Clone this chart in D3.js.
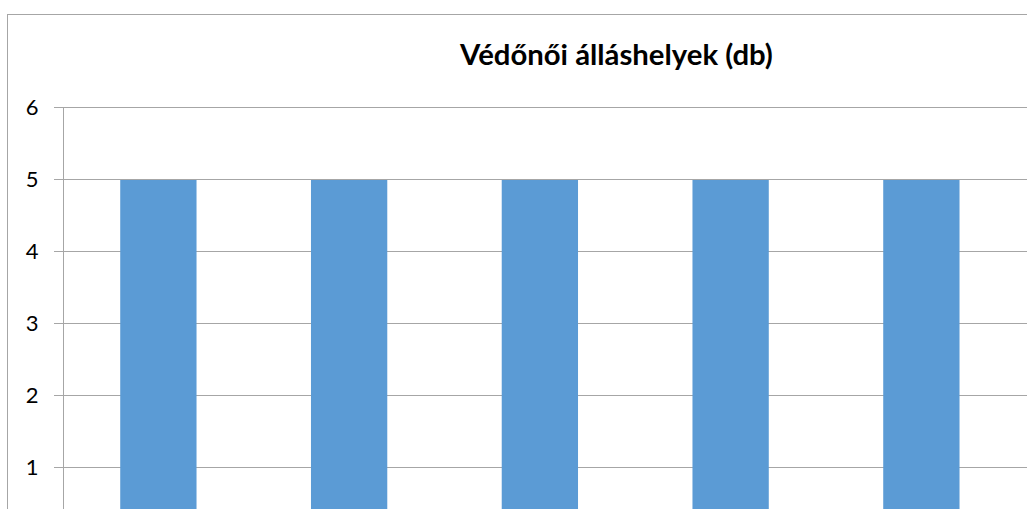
<!DOCTYPE html>
<html><head><meta charset="utf-8">
<script src="https://cdn.jsdelivr.net/npm/d3@7"></script>
<style>html,body{margin:0;padding:0;background:#fff;overflow:hidden}</style>
</head><body>
<svg id="c" width="1027" height="509"></svg>
<script>
const title = "Védőnői álláshelyek (db)";
const categories = ["1", "2", "3", "4", "5"];
const values = [5, 5, 5, 5, 5];
const yTicks = [0, 1, 2, 3, 4, 5, 6];

const svg = d3.select("#c");
const W = 1027, H = 509;
// chart frame (extends past the visible window on the right and bottom)
svg.append("rect").attr("x", 7.5).attr("y", 14.5).attr("width", 1240).attr("height", 600)
  .attr("fill", "#fff").attr("stroke", "#a6a6a6").attr("stroke-width", 1);

const x0 = 63, xEnd = 63 + 190.75 * 5;
const x = d3.scaleBand().domain(categories).range([x0, xEnd]).paddingInner(0.6).paddingOuter(0.3);
const y = d3.scaleLinear().domain([0, 6]).range([539, 107]);

// gridlines
const gridRight = 1240;
svg.append("g").selectAll("line").data(yTicks.filter(d => d > 0)).join("line")
  .attr("x1", 54).attr("x2", gridRight)
  .attr("y1", d => Math.round(y(d)) + 0.5).attr("y2", d => Math.round(y(d)) + 0.5)
  .attr("stroke", "#a6a6a6").attr("stroke-width", 1);

// bars
svg.append("g").selectAll("rect").data(values).join("rect")
  .attr("x", (d, i) => x(categories[i]))
  .attr("width", x.bandwidth())
  .attr("y", d => Math.round(y(d)) + 1)
  .attr("height", d => y(0) - Math.round(y(d)) - 1)
  .attr("fill", "#5b9bd5");

// y axis
const yAxis = d3.axisLeft(y).tickValues(yTicks.filter(d => d > 0)).tickFormat(d3.format("d")).tickSize(0).tickPadding(25);
const ga = svg.append("g").attr("transform", `translate(${x0 + 0.5},0)`).call(yAxis);
ga.attr("font-size", null).attr("font-family", null);
ga.select(".domain").remove();
ga.selectAll("text")
  .style("font-family", "Lato, 'Open Sans', sans-serif")
  .style("font-size", "22px")
  .attr("fill", "#000");
svg.append("line").attr("x1", x0 + 0.5).attr("x2", x0 + 0.5).attr("y1", y(6)).attr("y2", H + 40)
  .attr("stroke", "#a6a6a6").attr("stroke-width", 1);

// title
const t = svg.append("text").attr("x", 616.5).attr("y", 65).attr("text-anchor", "middle")
  .attr("font-family", "Lato, 'Open Sans', sans-serif").attr("font-weight", "bold").attr("font-size", 24)
  .attr("fill", "#000").text(title);
const len = t.node().getComputedTextLength();
t.attr("font-size", 24 * 313 / len);
</script>
</body></html>
